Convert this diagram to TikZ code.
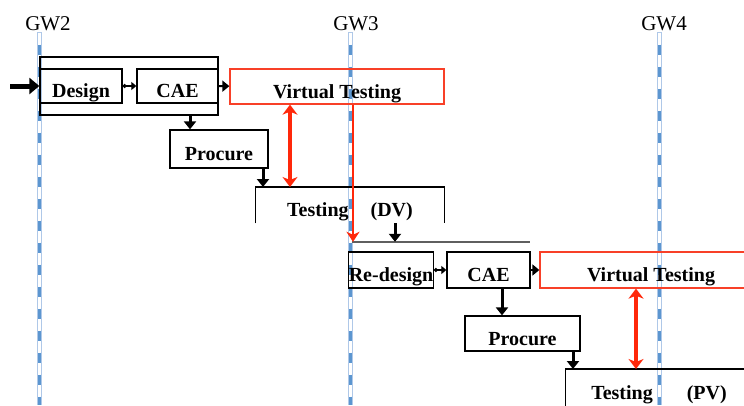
\documentclass[tikz,border=0pt]{standalone}
\usepackage{fontspec}
\setmainfont{Liberation Serif}
\usetikzlibrary{arrows.meta}
\definecolor{vtred}{RGB}{248,64,40}
\definecolor{arrred}{RGB}{255,40,10}
\definecolor{gwblue}{RGB}{92,150,208}
\definecolor{gwedge}{RGB}{175,200,232}
\definecolor{grpgray}{RGB}{95,95,95}

\begin{document}
\begin{tikzpicture}[x=1pt,y=-1pt,
    stage/.style={draw,line width=1.3pt,inner sep=0pt,text height=23pt,text depth=0pt,
                  font=\fontsize{20}{20}\selectfont\bfseries},
    virt/.style={stage,draw=vtred},
    gate/.style={font=\fontsize{21}{21}\selectfont,inner sep=0pt,anchor=base},
    flow/.style={-{Triangle[length=8pt,width=12pt]},line width=3pt},
    handoff/.style={{Circle[length=4pt]}-{Triangle[length=5pt,width=8pt]},line width=1.3pt},
    check/.style={{Stealth[length=10pt,width=15pt,inset=3pt]}-{Stealth[length=10pt,width=15pt,inset=3pt]},
                  line width=4pt,arrred},
    rework/.style={-{Stealth[length=10pt,width=13pt,inset=3pt]},line width=2.5pt,arrred}]
    \useasboundingbox (0,0) rectangle (744,405);
    % gateways
    \node[gate] (gw2) at (48,30) {GW2};
    \node[gate] (gw3) at (356,30) {GW3};
    \node[gate] (gw4) at (664,30) {GW4};
    \foreach \x in {39,350,659} {
        \draw[gwedge,line width=5pt] (\x,32) -- (\x,405);
        \draw[white,line width=3pt] (\x,32.5) -- (\x,405);
        \draw[gwblue,line width=3pt,dash pattern=on 10pt off 12pt,dash phase=10pt] (\x,32.5) -- (\x,405);
    }
    % first loop
    \node[stage,minimum width=178pt,minimum height=58pt] (phaseA) at (129,86) {};
    \node[stage,minimum width=82pt,minimum height=34pt] (design) at (81,86) {Design};
    \node[stage,minimum width=81pt,minimum height=34pt] (cae) at (177.5,86) {CAE};
    \node[virt,minimum width=214pt,minimum height=35pt] (vt) at (337,86.5) {Virtual Testing};
    \node[stage,minimum width=98pt,minimum height=38pt] (proc) at (219,149) {Procure};
    \node[stage,draw=none,minimum width=188pt,minimum height=35pt,anchor=north] (testdv) at (350,187)
        {Testing\hspace{22pt}(DV)};
    \draw[line width=1.3pt] (testdv.south west) -- (testdv.north west) -- (testdv.north east) -- (testdv.south east);
    % second loop
    \node[minimum width=178pt,minimum height=46pt,inner sep=0pt] (phaseB) at (441,265) {};
    \draw[grpgray,line width=1.6pt] (phaseB.north west) -- (phaseB.north east);
    \node[stage,minimum width=82pt,minimum height=36pt] (redesign) at (391,270) {Re-design};
    \node[stage,minimum width=83pt,minimum height=36pt] (cae2) at (488.5,270) {CAE};
    \node[virt,minimum width=222pt,minimum height=36pt] (vt2) at (651,270) {Virtual Testing};
    \node[stage,minimum width=115pt,minimum height=35pt] (proc2) at (522.5,333.5) {Procure};
    \node[stage,draw=none,minimum width=186pt,minimum height=36pt,anchor=north] (testpv) at (659,369)
        {Testing\hspace{34pt}(PV)};
    \draw[line width=1.3pt] (testpv.south west) -- (testpv.north west) -- (testpv.north east) -- (testpv.south east);
    % flow
    \draw[-{Triangle[length=10pt,width=16pt]},line width=5pt] (10,86) -- (design.west);
    \draw[handoff] (design) -- (cae);
    \draw[-{Triangle[length=7pt,width=11pt]},line width=2pt] (cae) -- (vt);
    \draw[flow] (190,0 |- phaseA.south) -- (190,0 |- proc.north);
    \draw[flow] (263,0 |- proc.south) -- (263,0 |- testdv.north);
    \draw[flow] (395,0 |- testdv.south) -- (395,0 |- phaseB.north);
    \draw[handoff] (redesign) -- (cae2);
    \draw[-{Triangle[length=7pt,width=11pt]},line width=2pt] (cae2) -- (vt2);
    \draw[flow] (502,0 |- cae2.south) -- (502,0 |- proc2.north);
    \draw[flow] (573,0 |- proc2.south) -- (573,0 |- testpv.north);
    % virtual vs physical
    \draw[check] (290,0 |- vt.south) -- (290,0 |- testdv.north);
    \draw[rework] (353,0 |- vt.south) -- (353,0 |- phaseB.north);
    \draw[check] (636,0 |- vt2.south) -- (636,0 |- testpv.north);
\end{tikzpicture}
\end{document}
